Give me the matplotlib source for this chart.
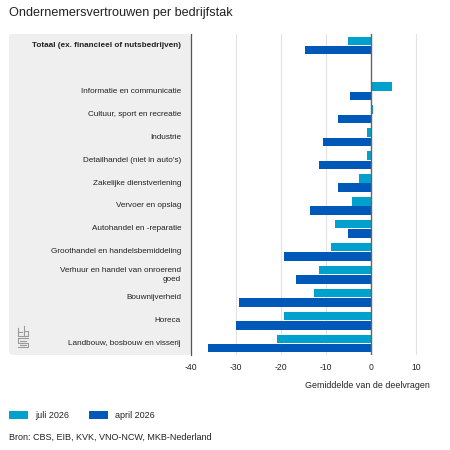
import numpy as np
import matplotlib.pyplot as plt
from matplotlib.patches import FancyBboxPatch, Rectangle

plt.rcParams['font.family'] = ['Liberation Sans', 'DejaVu Sans']

# data
categories = ["Totaal (ex. financieel of nutsbedrijven)", "",
              "Informatie en communicatie", "Cultuur, sport en recreatie",
              "Industrie", "Detailhandel (niet in auto's)",
              "Zakelijke dienstverlening", "Vervoer en opslag",
              "Autohandel en -reparatie", "Groothandel en handelsbemiddeling",
              "Verhuur en handel van onroerend\ngoed", "Bouwnijverheid",
              "Horeca", "Landbouw, bosbouw en visserij"]
juli = [-5.2, np.nan, 4.6, 0.4, -1.0, -1.0, -2.8, -4.3, -8.0, -9.0,
        -11.6, -12.7, -19.3, -20.9]
april = [-14.7, np.nan, -4.8, -7.5, -10.8, -11.6, -7.5, -13.5, -5.2,
         -19.3, -16.8, -29.3, -30.0, -36.3]
series_names = ["juli 2026", "april 2026"]
xticks = [-40, -30, -20, -10, 0, 10]

c_juli = "#00a1cd"
c_april = "#0058b8"

fig = plt.figure(figsize=(4.5, 4.5), dpi=100)

# gray panel behind labels
panel = FancyBboxPatch((9 / 450, 1 - 355 / 450), (191 - 9) / 450, (355 - 34) / 450,
                       boxstyle="round,pad=0,rounding_size=0.008",
                       transform=fig.transFigure, facecolor="#efefef",
                       edgecolor="none", zorder=-10)
fig.patches.append(panel)

ax = fig.add_axes([191 / 450, 1 - 355 / 450, (430 - 191) / 450, (355 - 34) / 450])
ax.patch.set_alpha(0)

y = np.arange(len(categories))
h = 0.37
ax.barh(y - h / 2 - 0.02, juli, height=h, color=c_juli, zorder=3)
ax.barh(y + h / 2 + 0.02, april, height=h, color=c_april, zorder=3)

ax.set_ylim(len(categories) - 0.5, -0.5)
ax.set_xlim(-40, 13)
ax.set_yticks(y)
ax.set_yticklabels([])
ax.tick_params(axis="y", length=0)
# category labels, right aligned next to the axis
for yi, cat in zip(y, categories):
    ax.annotate(cat, xy=(0, yi), xycoords=ax.get_yaxis_transform(),
                xytext=(-10, 0), textcoords="offset pixels",
                ha="right", va="center", fontsize=5.9, color="#222222",
                linespacing=1.45,
                fontweight="bold" if yi == 0 else "normal")
ax.set_xticks(xticks)
ax.set_xticklabels([str(t) for t in xticks], fontsize=6.2, color="#222222")
ax.tick_params(axis="x", length=0, pad=6)

ax.grid(axis="x", color="#e2e2e2", linewidth=0.8, zorder=0)
ax.axvline(0, color="#666666", linewidth=1.0, zorder=4)
for s in ["top", "right", "bottom"]:
    ax.spines[s].set_visible(False)
ax.spines["left"].set_color("#555555")
ax.spines["left"].set_linewidth(0.9)

ax.set_xlabel("Gemiddelde van de deelvragen", fontsize=6.4, color="#222222")
ax.xaxis.set_label_coords(1.0, -0.08)
ax.xaxis.label.set_horizontalalignment("right")

# title
fig.text(9 / 450, 1 - 13 / 450, "Ondernemersvertrouwen per bedrijfstak",
         fontsize=9.1, va="center", ha="left", color="#222222")

# legend
for i, (name, col) in enumerate(zip(series_names, [c_juli, c_april])):
    x0 = [9, 89][i]
    fig.patches.append(Rectangle((x0 / 450, 1 - 419 / 450), 19 / 450, 8 / 450,
                                 transform=fig.transFigure, facecolor=col,
                                 edgecolor="none"))
    fig.text((x0 + 26) / 450, 1 - 415 / 450, name, fontsize=6.5,
             va="center", ha="left", color="#222222")

fig.text(9 / 450, 1 - 437 / 450, "Bron: CBS, EIB, KVK, VNO-NCW, MKB-Nederland",
         fontsize=6.45, va="center", ha="left", color="#222222")

# rough cbs logo
lc = "#9a9a9a"
lw = 0.8
segs = [
    [(18, 328), (18, 336), (23, 336)],
    [(18, 332), (22, 332)],
    [(24, 326), (24, 336), (28, 336), (28, 331), (24, 331)],
    [(18, 338), (28, 338)],
    [(18, 339), (18, 343), (28, 343), (28, 347), (18, 347)],
    [(20, 341), (26, 341)],
    [(20, 345), (26, 345)],
]
for seg in segs:
    xs = [p[0] / 450 for p in seg]
    ys = [1 - p[1] / 450 for p in seg]
    fig.add_artist(plt.Line2D(xs, ys, color=lc, linewidth=lw,
                              transform=fig.transFigure))

fig.savefig("out.png", dpi=100)
